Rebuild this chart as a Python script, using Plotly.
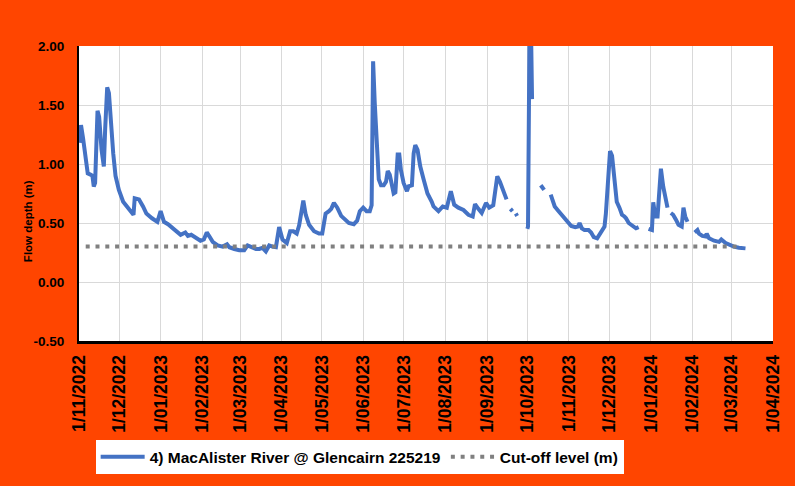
import pandas as pd
import plotly.graph_objects as go

# flow depth readings (days after 1 Nov 2022, metres); None = missing data
days_since_start = [
    0.7, 1.5, 3, 5, 6.5, 8.5, 10, 11, 12, 13.8, 15, 16.8, 18.5, 19.5, 21, 22.3, 23.7, 25.5, 27.2, 29.7,
    32.9, 35.4, 38.6, 40.6, 41.5, 44.7, 47.7, 50.2, 54.4, 58.4, 60.8, 63.3, 66.3, 71.2, 75.7, 79.2,
    81.1, 83.6, 87.3, 90.5, 93, 95.2, 97.2, 99.6, 103.3, 107, 110.3, 112, 115.7, 119.4, 123.1, 125.6,
    128.6, 131.8, 134.3, 136.7, 139.2, 141.7, 144.1, 146.7, 149.1, 151.6, 154.8, 157.3, 159.7, 162.2,
    164, 167.1, 168.9, 171.4, 175.1, 178.8, 181.2, 183.7, 186.2, 187.9, 189.9, 192.4, 195.3, 198.6,
    201, 204.7, 207.2, 209.2, 211.7, 214.2, 216.6, 218, 219.1, 220.3, 221.6, 223.3, 225, 227, 228.7,
    230, 231.5, 233, 234.4, 235.7, 237.4, 238.6, 239.8, 241.8, 244.3, 245.5, 248, 249.3, 250.5, 252.2,
    254.2, 256.7, 259.6, 262.8, 264.1, 267.8, 271, 274, 277, 279.5, 282.6, 286.4, 290.1, 293.3, 295,
    297.5, 300, 303.2, 305.6, 308.6, 311.6, 313.6, 316, 318.5, 320, 321.4, 322.9, 324, 325.4, 326.4,
    330, 334, 334.5, 336, 337.5, 341, 344, 345.7, 346.5, 349, 351.4, 352.4, 354.4, 357.3, 360.5, 363.7,
    366.7, 369.7, 371.7, 372.9, 374.6, 376.6, 379.6, 381.5, 383.5, 386, 387.7, 390.2, 391.5, 392.5,
    393.9, 395.6, 397.1, 398.8, 400.6, 402.6, 404.5, 406.3, 407.5, 409.5, 412.5, 414.9, 416.9, 420,
    424.3, 426.8, 427.8, 429.3, 431, 433.5, 435.2, 436.7, 438.4, 439.6, 440.9, 442.6, 444.6, 446.6,
    449, 450.3, 451.6, 453.3, 456, 458.7, 460.7, 461.9, 464.4, 466.8, 467.6, 469.4, 473.1, 476.8,
    478.5, 481.7, 484.2, 487.9, 491.6, 496.5,
]
depth_m = [
    1.18, 1.33, 1.22, 1.04, 0.92, 0.91, 0.90, 0.81, 0.84, 1.45, 1.40, 1.12, 0.98, 1.30, 1.65, 1.60, 1.35, 1.09, 0.90, 0.78,
    0.68, 0.64, 0.60, 0.57, 0.71, 0.70, 0.64, 0.58, 0.54, 0.51, 0.60, 0.51, 0.49, 0.44, 0.40, 0.42,
    0.39, 0.40, 0.37, 0.35, 0.36, 0.42, 0.385, 0.34, 0.31, 0.30, 0.32, 0.295, 0.28, 0.27, 0.27, 0.31,
    0.295, 0.28, 0.28, 0.29, 0.26, 0.31, 0.30, 0.295, 0.465, 0.36, 0.33, 0.43, 0.43, 0.41,
    0.48, 0.69, 0.57, 0.485, 0.43, 0.41, 0.41, 0.58, 0.60, 0.62, 0.67, 0.63, 0.56, 0.53,
    0.50, 0.49, 0.52, 0.60, 0.63, 0.60, 0.60, 0.65, 1.87, 1.52, 1.21, 0.87, 0.82, 0.82, 0.85,
    0.94, 0.91, 0.81, 0.75, 0.76, 1.08, 1.08, 0.95, 0.84, 0.77, 0.81, 0.82, 1.09, 1.16, 1.12,
    0.98, 0.87, 0.75, 0.68, 0.64, 0.60, 0.64, 0.63, 0.77, 0.655, 0.63, 0.61, 0.57, 0.555, 0.66,
    0.62, 0.585, 0.67, 0.63, 0.65, 0.895, 0.85, 0.78, 0.70, None, 0.62, 0.60, None, 0.58, 0.56,
    None, 0.45, 0.47, 2.70, 1.55, None, 0.82, 0.80, 0.78, None, 0.74, 0.70, 0.64, 0.60, 0.555, 0.51,
    0.475, 0.465, 0.47, 0.50, 0.455, 0.44, 0.44, 0.42, 0.38, 0.37, 0.40, 0.44, 0.47, 0.58,
    0.81, 1.11, 1.07, 0.87, 0.68, 0.63, 0.57, 0.555, 0.54, 0.50, 0.47, 0.455, 0.465, None,
    0.45, 0.44, 0.675, 0.555, 0.555, 0.96, 0.81, 0.70, 0.63, None, 0.585, 0.57, 0.53, 0.485,
    0.47, 0.63, 0.555, 0.51, None, 0.42, 0.44, 0.41, 0.39, 0.385, 0.41, 0.37, 0.35, 0.34,
    0.36, 0.33, 0.315, 0.30, 0.29, 0.285,
]

cutoff_dates = ["2022-11-06", "2024-03-08"]
cutoff_m = [0.3, 0.3]

y_ticks = [-0.5, 0.0, 0.5, 1.0, 1.5, 2.0]
y_labels = ["-0.50", "0.00", "0.50", "1.00", "1.50", "2.00"]

start = pd.Timestamp("2022-11-01")
dates = start + pd.to_timedelta(days_since_start, unit="D")

fig = go.Figure()
fig.add_trace(go.Scatter(
    x=dates, y=depth_m, mode="lines", connectgaps=False,
    name="4) MacAlister River @ Glencairn 225219",
    line=dict(color="#4472C4", width=4),
))
fig.add_trace(go.Scatter(
    x=cutoff_dates, y=cutoff_m, mode="lines",
    name="Cut-off level (m)",
    line=dict(color="#808080", width=4, dash="4px,5.8px"),
))

bold = dict(family="Arial", color="black", weight="bold")

fig.update_layout(
    width=795, height=486,
    margin=dict(l=79, r=19, t=46, b=145),
    paper_bgcolor="#FF4500",
    plot_bgcolor="white",
    showlegend=True,
    legend=dict(
        orientation="h", x=0.024, y=-0.336, xanchor="left", yanchor="top",
        bgcolor="white", font=dict(size=15.5, **bold),
        itemwidth=44,
    ),
    xaxis=dict(
        range=["2022-11-01", "2024-04-01"],
        tick0="2022-11-01", dtick="M1",
        tickformat="%-d/%m/%Y", tickangle=-90,
        tickfont=dict(size=17.5, **bold),
        showgrid=True, gridcolor="#D9D9D9", gridwidth=1,
        showline=True, linecolor="black", linewidth=3,
        ticks="", ticklabelstandoff=4,
    ),
    yaxis=dict(
        range=[-0.5, 2.0],
        tickvals=y_ticks, ticktext=y_labels,
        tickfont=dict(size=13.5, **bold),
        showgrid=True, gridcolor="#D9D9D9", gridwidth=1,
        zeroline=False,
        showline=True, linecolor="black", linewidth=2,
        ticks="", ticklabelstandoff=10,
    ),
)

fig.add_annotation(
    text="Flow depth (m)", xref="paper", yref="paper",
    x=-0.0732, y=0.407, xanchor="center", yanchor="middle",
    showarrow=False, textangle=-90,
    font=dict(size=11.5, **bold),
)

# page body has a default 8px margin; drop it so the figure fills the window
fig.write_html(
    "out.html",
    config={"displayModeBar": False},
    post_script="document.body.style.margin='0';",
)
